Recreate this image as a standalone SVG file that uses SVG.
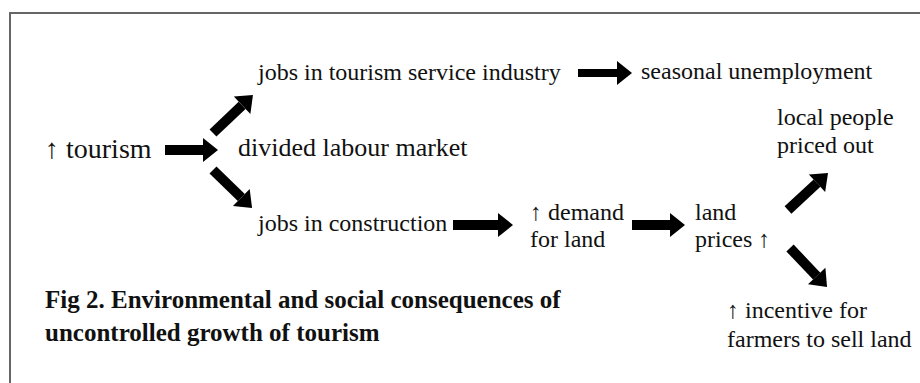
<svg xmlns="http://www.w3.org/2000/svg" width="920" height="383" viewBox="0 0 920 383">
  <style>
    .t { font-family: "Liberation Serif", "Times New Roman", serif; font-size: 24px; fill: #111; }
    .big { font-size: 28px; }
    .mid { font-size: 26px; }
    .up { font-weight: bold; }
    .cap { font-family: "Liberation Serif", "Times New Roman", serif; font-size: 25px; font-weight: bold; fill: #111; }
    .arrow { stroke: #000; stroke-width: 10; fill: none; marker-end: url(#head); }
  </style>
  <defs>
    <!-- solid triangular head; the shaft ends at its base -->
    <marker id="head" markerUnits="userSpaceOnUse" markerWidth="16" markerHeight="24" viewBox="0 -12 16 24" refX="0" refY="0" orient="auto" overflow="visible">
      <path d="M0,-12 L15,0 L0,12 Z" fill="#000"/>
    </marker>
  </defs>

  <rect width="920" height="383" fill="#fff"/>
  <!-- frame: left and top edges -->
  <path d="M10,383 V13 H920" fill="none" stroke="#666" stroke-width="2"/>

  <g id="connectors">
    <line class="arrow" x1="165" y1="150" x2="203" y2="150"/>
    <line class="arrow" x1="213" y1="133" x2="242.1" y2="105.3"/>
    <line class="arrow" x1="213" y1="170" x2="241.3" y2="197.5"/>
    <line class="arrow" x1="578" y1="73" x2="617" y2="73" style="stroke-width:8"/>
    <line class="arrow" x1="453" y1="225" x2="498" y2="225"/>
    <line class="arrow" x1="632" y1="225" x2="670" y2="225"/>
    <line class="arrow" x1="788" y1="210" x2="817" y2="183.2"/>
    <line class="arrow" x1="790" y1="248" x2="816.7" y2="276.1"/>
  </g>

  <g id="tourism">
    <text class="t big" x="45" y="158"><tspan class="up">↑</tspan> tourism</text>
  </g>
  <g id="service-jobs">
    <text class="t" x="258" y="80">jobs in tourism service industry</text>
  </g>
  <g id="seasonal">
    <text class="t" x="641" y="79">seasonal unemployment</text>
  </g>
  <g id="labour-market">
    <text class="t mid" x="238" y="156">divided labour market</text>
  </g>
  <g id="construction-jobs">
    <text class="t" x="258" y="231">jobs in construction</text>
  </g>
  <g id="land-demand">
    <text class="t" x="530" y="220"><tspan class="up">↑</tspan> demand</text>
    <text class="t" x="530" y="247">for land</text>
  </g>
  <g id="land-prices">
    <text class="t" x="695" y="220">land</text>
    <text class="t" x="695" y="247">prices <tspan class="up">↑</tspan></text>
  </g>
  <g id="priced-out">
    <text class="t" x="777" y="125">local people</text>
    <text class="t" x="777" y="153">priced out</text>
  </g>
  <g id="farmers">
    <text class="t" x="727" y="318"><tspan class="up">↑</tspan> incentive for</text>
    <text class="t" x="727" y="347">farmers to sell land</text>
  </g>

  <g id="caption">
    <text class="cap" x="45" y="308">Fig 2. Environmental and social consequences of</text>
    <text class="cap" x="45" y="341">uncontrolled growth of tourism</text>
  </g>
</svg>
